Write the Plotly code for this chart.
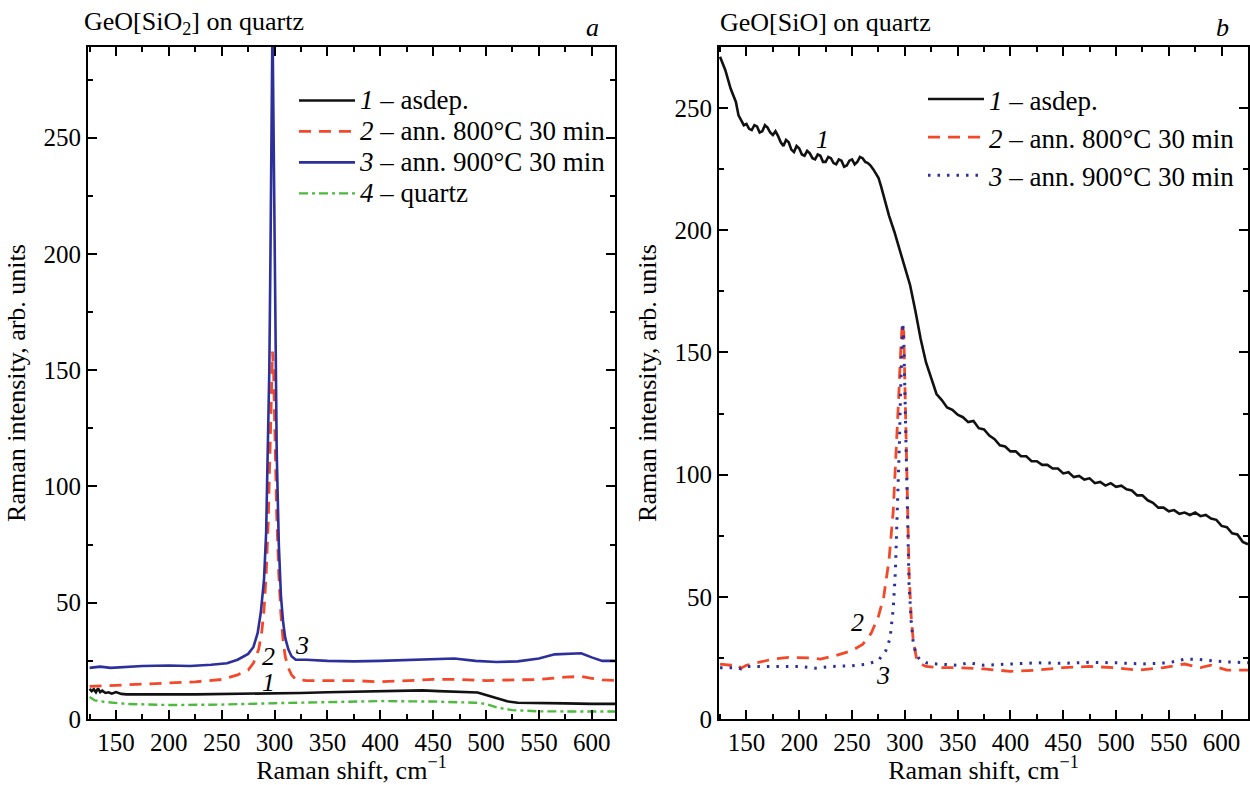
import plotly.graph_objects as go

# ---------------- Panel a: GeO[SiO2] on quartz ----------------
a1_x = [125, 127, 129, 131, 133, 135, 137, 140, 143, 146, 150, 155, 160, 175, 200, 225, 250, 275, 300,
        325, 350, 375, 400, 425, 440, 455, 470, 485, 492, 500, 510, 520, 530, 545, 560, 575, 600, 625]
a1_y = [13.0, 12.0, 12.8, 11.5, 13.2, 11.6, 12.2, 11.2, 11.5, 10.9, 11.6, 10.8, 10.6, 10.5, 10.6, 10.6, 10.7, 10.8, 11.0,
        11.2, 11.5, 11.8, 12.0, 12.1, 12.3, 12.0, 11.8, 11.6, 11.4, 10.3, 8.8, 7.6, 7.0, 6.8, 6.7, 6.7, 6.5, 6.5]

a2_x = [125, 150, 175, 200, 225, 250, 265, 275, 280, 285, 288, 290, 292, 294, 296, 297, 298, 299, 300,
        302, 304, 306, 308, 310, 313, 316, 320, 330, 350, 375, 400, 425, 450, 475, 500, 525, 550, 575, 590, 600, 610, 625]
a2_y = [14.0, 14.5, 15.0, 15.5, 16.0, 17.0, 19.0, 21.0, 24.0, 30.0, 38.0, 47.0, 62.0, 85.0, 125.0, 150.0, 158.0, 150.0, 128.0,
        88.0, 62.0, 45.0, 34.0, 27.0, 22.0, 19.0, 17.0, 16.5, 16.5, 16.5, 16.0, 16.5, 17.0, 17.0, 16.5, 16.8, 17.0, 18.0, 18.3, 17.5, 16.8, 16.5]

a3_x = [125, 135, 145, 160, 175, 200, 220, 240, 255, 265, 275, 280, 284, 287, 290, 292, 294, 295, 296, 297, 298,
        299, 300, 301, 302, 304, 306, 308, 310, 313, 316, 320, 330, 350, 375, 400, 425, 450, 470, 490, 510, 530,
        550, 565, 580, 590, 600, 610, 625]
a3_y = [22.0, 22.5, 22.0, 22.5, 22.8, 23.0, 22.8, 23.3, 24.0, 25.5, 28.0, 31.0, 37.0, 46.0, 60.0, 80.0, 118.0, 150.0, 195.0, 250.0, 300.0,
        255.0, 200.0, 150.0, 115.0, 75.0, 53.0, 42.0, 35.0, 30.0, 27.0, 25.5, 25.5, 25.0, 24.8, 25.0, 25.3, 25.8, 26.0, 25.0, 24.5, 24.8,
        26.0, 27.8, 28.0, 28.3, 26.5, 25.0, 25.0]

a4_x = [125, 130, 140, 160, 200, 250, 300, 350, 400, 450, 490, 500, 510, 525, 550, 600, 625]
a4_y = [9.5, 8.0, 7.3, 6.5, 6.0, 6.2, 6.8, 7.2, 7.7, 7.5, 7.0, 6.5, 5.0, 3.8, 3.3, 3.2, 3.2]

# ---------------- Panel b: GeO[SiO] on quartz ----------------
b1_x = ([125, 130, 135]
        + [140 + 2.5 * i for i in range(57)]
        + list(range(285, 630, 5)))
b1_y = [271, 265.5, 258,
        252.5, 247, 245, 243, 243.5, 241.5, 241, 243, 242.5, 240,
        240.5, 243, 242, 240, 239, 240.5, 238.5, 236, 234.5, 237,
        236, 233, 232, 234.5, 233.5, 231, 230.5, 232.5, 231.5, 229.5,
        229, 231, 230.5, 228, 228, 230, 229.5, 227.5, 227, 229,
        228.5, 226, 226.5, 228.5, 229, 227, 228, 230, 229.5, 228,
        227.5, 226.5, 225, 223.5, 221.5, 218, 214,
        206, 199.5, 192, 185, 177.5, 167, 155.5, 146, 139.5, 133, 130.5, 127.5, 126.5, 124.5, 123.5, 121.5,
        122, 119, 118.5, 116, 114.5, 112, 111.5, 109.5, 109.5, 107.5, 107.5, 105.5, 105.5, 104, 104, 102.5,
        102.5, 100.5, 101, 99, 99.5, 98, 98.5, 96.5, 97, 95.5, 96.5, 95, 95.5, 94, 93.5, 91.5, 91.5, 89.5,
        88.5, 86.5, 86.5, 85, 85.5, 84, 84.5, 83.5, 84.5, 83, 83.5, 82, 81.5, 79, 78.5, 76, 75.5, 72.5, 71.5]

b2_x = [125, 135, 140, 145, 150, 160, 175, 190, 210, 220, 235, 250, 260, 268, 275, 280, 285, 289, 292, 294, 296,
        297.5, 299, 300, 302, 304, 306, 308, 311, 315, 320, 335, 350, 375, 400, 425, 450, 475, 500, 520, 545,
        565, 580, 590, 605, 625]
b2_y = [22.5, 22.0, 22.5, 20.8, 22.0, 23.0, 24.5, 25.2, 25.0, 24.5, 26.0, 28.0, 30.5, 35.0, 42.0, 50.0, 65.0, 85.0, 110.0, 130.0, 150.0,
        162.0, 158.0, 140.0, 105.0, 60.0, 42.0, 32.0, 25.0, 22.5, 21.5, 21.0, 21.0, 20.5, 19.5, 20.0, 21.0, 21.5, 21.0, 20.0, 21.0,
        22.5, 21.0, 22.0, 20.0, 20.0]

b3_x = [125, 140, 145, 150, 175, 200, 215, 230, 250, 265, 275, 282, 286, 289, 291, 293, 295, 296, 297, 298, 299,
        300, 301, 302, 304, 306, 308, 311, 315, 320, 330, 350, 360, 375, 400, 425, 450, 475, 500, 525, 550,
        565, 575, 590, 600, 625]
b3_y = [21.0, 21.0, 20.5, 21.5, 21.5, 21.5, 20.8, 21.5, 21.8, 22.5, 24.0, 28.0, 33.0, 45.0, 60.0, 85.0, 115.0, 135.0, 155.0, 162.0, 155.0,
        135.0, 110.0, 85.0, 55.0, 40.0, 31.0, 26.0, 24.0, 23.0, 22.5, 22.0, 23.0, 22.0, 22.5, 23.0, 22.8, 23.2, 23.0, 22.5, 23.0,
        24.5, 24.5, 24.0, 23.5, 23.0]

names_a = ["<i>1</i> – asdep.", "<i>2</i> – ann. 800°C 30 min", "<i>3</i> – ann. 900°C 30 min", "<i>4</i> – quartz"]
names_b = ["<i>1</i> – asdep.", "<i>2</i> – ann. 800°C 30 min", "<i>3</i> – ann. 900°C 30 min"]

BLACK = "#111111"
RED = "#f2492a"
BLUE = "#2d2f9a"
GREEN = "#4cba3c"
FONT = "Liberation Serif"

def big(s):
    return '<span style="font-size:27px">' + s + '</span>'

fig = go.Figure()
fig.add_trace(go.Scatter(x=a1_x, y=a1_y, mode="lines", name=big(names_a[0]),
                         line=dict(color=BLACK, width=2.6), xaxis="x", yaxis="y", legend="legend"))
fig.add_trace(go.Scatter(x=a2_x, y=a2_y, mode="lines", name=big(names_a[1]),
                         line=dict(color=RED, width=2.8, dash="12px,8px"), xaxis="x", yaxis="y", legend="legend"))
fig.add_trace(go.Scatter(x=a3_x, y=a3_y, mode="lines", name=big(names_a[2]),
                         line=dict(color=BLUE, width=2.6), xaxis="x", yaxis="y", legend="legend"))
fig.add_trace(go.Scatter(x=a4_x, y=a4_y, mode="lines", name=big(names_a[3]),
                         line=dict(color=GREEN, width=2.4, dash="9px,4px,3px,4px"), xaxis="x", yaxis="y", legend="legend"))

fig.add_trace(go.Scatter(x=b1_x, y=b1_y, mode="lines", name=names_b[0],
                         line=dict(color=BLACK, width=2.6), xaxis="x2", yaxis="y2", legend="legend2"))
fig.add_trace(go.Scatter(x=b2_x, y=b2_y, mode="lines", name=names_b[1],
                         line=dict(color=RED, width=2.8, dash="12px,8px"), xaxis="x2", yaxis="y2", legend="legend2"))
fig.add_trace(go.Scatter(x=b3_x, y=b3_y, mode="lines", name=names_b[2],
                         line=dict(color=BLUE, width=3, dash="2.5px,7px"), xaxis="x2", yaxis="y2", legend="legend2"))

def xax(domain, rng, anchor):
    return dict(domain=domain, range=rng, anchor=anchor, automargin=False,
                showline=True, linecolor="black", linewidth=2,
                mirror="ticks", ticks="inside", ticklen=9, tickwidth=1.6, tickcolor="black",
                tick0=150, dtick=50, showgrid=False, zeroline=False,
                minor=dict(ticks="inside", ticklen=5, tickwidth=1.6, tickcolor="black", dtick=25, showgrid=False),
                tickfont=dict(family=FONT, size=25, color="black"),
                title=dict(text="Raman shift, cm<sup>−1</sup>", font=dict(family=FONT, size=26, color="black"), standoff=2))

def yax(rng, anchor):
    return dict(range=rng, anchor=anchor, domain=[0, 1], automargin=False,
                showline=True, linecolor="black", linewidth=2,
                mirror="ticks", ticks="inside", ticklen=9, tickwidth=1.6, tickcolor="black",
                tick0=0, dtick=50, showgrid=False, zeroline=False,
                minor=dict(ticks="inside", ticklen=5, tickwidth=1.6, tickcolor="black", dtick=25, showgrid=False),
                tickfont=dict(family=FONT, size=25, color="black"),
                title=dict(text="Raman intensity, arb. units", font=dict(family=FONT, size=26, color="black"), standoff=10))

L, R, T, B = 88, 2, 47, 66
W, H = 1250, 785
pw = W - L - R
ph = H - T - B
fig.update_layout(
    width=W, height=H, margin=dict(l=L, r=R, t=T, b=B, autoexpand=False),
    paper_bgcolor="white", plot_bgcolor="white",
    xaxis=xax([0, (615 - L) / pw], [123.5, 622], "y"),
    yaxis=yax([0, 289], "x"),
    xaxis2=xax([(719 - L) / pw, 1], [124, 625], "y2"),
    yaxis2=yax([0, 275], "x2"),
    legend=dict(x=(294 - L) / pw, y=1 - (80 - T) / ph, xanchor="left", yanchor="top",
                font=dict(family=FONT, size=21.5, color="black"), bgcolor="rgba(0,0,0,0)",
                itemwidth=56, traceorder="normal"),
    legend2=dict(x=(923 - L) / pw, y=1 - (75 - T) / ph, xanchor="left", yanchor="top",
                 font=dict(family=FONT, size=27, color="black"), bgcolor="rgba(0,0,0,0)",
                 itemwidth=56, traceorder="normal"),
    showlegend=True,
)

ann_font = dict(family=FONT, size=26, color="black")
anns = [
    dict(text="GeO[SiO<sub>2</sub>] on quartz", xref="paper", yref="paper", x=(82 - L) / pw, y=1 + (T - 23) / ph,
         xanchor="left", yanchor="middle", showarrow=False, font=ann_font),
    dict(text="<i>a</i>", xref="paper", yref="paper", x=(592 - L) / pw, y=1 + (T - 28) / ph,
         xanchor="center", yanchor="middle", showarrow=False, font=ann_font),
    dict(text="GeO[SiO] on quartz", xref="paper", yref="paper", x=(718 - L) / pw, y=1 + (T - 23) / ph,
         xanchor="left", yanchor="middle", showarrow=False, font=ann_font),
    dict(text="<i>b</i>", xref="paper", yref="paper", x=(1222 - L) / pw, y=1 + (T - 28) / ph,
         xanchor="center", yanchor="middle", showarrow=False, font=ann_font),
    dict(text="<i>1</i>", xref="x", yref="y", x=294, y=15.5, showarrow=False, font=ann_font),
    dict(text="<i>2</i>", xref="x", yref="y", x=294, y=27, showarrow=False, font=ann_font),
    dict(text="<i>3</i>", xref="x", yref="y", x=326, y=31.5, showarrow=False, font=ann_font),
    dict(text="<i>1</i>", xref="x2", yref="y2", x=222, y=237, showarrow=False, font=ann_font),
    dict(text="<i>2</i>", xref="x2", yref="y2", x=255, y=39.5, showarrow=False, font=ann_font),
    dict(text="<i>3</i>", xref="x2", yref="y2", x=279, y=18, showarrow=False, font=ann_font),
]
fig.update_layout(annotations=anns)

fig.write_html("out.html", config={"displayModeBar": False},
               post_script="document.body.style.margin='0';document.body.style.overflow='hidden';")
